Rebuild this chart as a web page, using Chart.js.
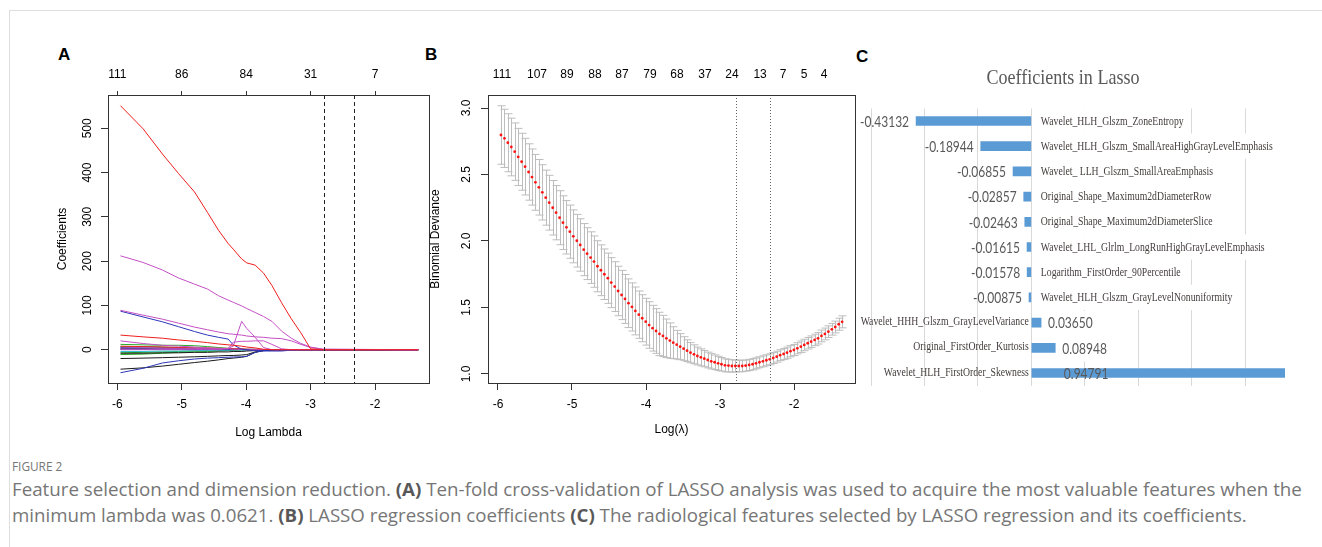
<!DOCTYPE html>
<html>
<head>
<meta charset="utf-8">
<title>Figure 2</title>
<script src="https://cdn.jsdelivr.net/npm/chart.js@4.4.1/dist/chart.umd.min.js"></script>
<style>
  html, body { margin: 0; padding: 0; background: #fff; }
  body { position: relative; width: 1322px; height: 547px; overflow: hidden; }
  .frame { position: absolute; left: 9px; top: 10px; width: 1320px; height: 545px; border-top: 1px solid #dedede; border-left: 1px solid #dedede; }
  .panel { position: absolute; }
  .letter { position: absolute; font: bold 17px 'Liberation Sans', Arial, sans-serif; line-height: 17px; color: #000; }
  .caption { position: absolute; left: 12px; white-space: nowrap; font-family: 'Open Sans', sans-serif; color: #767676; transform-origin: 0 0; }
  .caption b { color: #585858; }
</style>
</head>
<body>
<div class="frame"></div>
<div class="letter" style="left:58px;top:46px">A</div>
<div class="letter" style="left:425px;top:46px">B</div>
<div class="letter" style="left:856px;top:48px">C</div>

<canvas id="chartA" class="panel" width="400" height="410" style="left:40px;top:40px"></canvas>
<canvas id="chartB" class="panel" width="440" height="410" style="left:425px;top:40px"></canvas>
<canvas id="chartC" class="panel" width="462" height="345" style="left:860px;top:55px"></canvas>

<div class="caption" style="top:457px;font-size:13px" data-w="50">FIGURE 2</div>
<div class="caption" style="top:477px;font-size:18px" data-w="1290">Feature selection and dimension reduction. <b>(A)</b> Ten-fold cross-validation of LASSO analysis was used to acquire the most valuable features when the</div>
<div class="caption" style="top:503px;font-size:18px" data-w="1235">minimum lambda was 0.0621. <b>(B)</b> LASSO regression coefficients <b>(C)</b> The radiological features selected by LASSO regression and its coefficients.</div>

<script>
(function () {
  'use strict';

  // ---- panel A: coefficient paths ----
  var logLambdaA = [-5.95, -5.6, -5.3, -5.05, -4.8, -4.6, -4.43, -4.28, -4.2, -4.07, -3.99, -3.86, -3.73, -3.6, -3.45, -3.3, -3.15, -3.0, -2.8, -1.33];
  var pathGreen1 = [12, 11, 10, 10, 9, 7, 5, 3, 2, 1, 0, 0, 0, 0, 0, 0, 0, 0, 0, 0];
  var pathGreen2 = [7, 7, 6, 5, 4, 3, 2, 1, 1, 0, 0, 0, 0, 0, 0, 0, 0, 0, 0, 0];
  var pathGreen3 = [-7, -6, -5, -4, -3, -2, -2, -1, -1, 0, 0, 0, 0, 0, 0, 0, 0, 0, 0, 0];
  var pathGreen4 = [-11, -10, -8, -6, -5, -4, -3, -2, -1, 0, 0, 0, 0, 0, 0, 0, 0, 0, 0, 0];
  var pathCyan1 = [-4, -4, -3, -3, -2, -2, -1, -1, 0, 0, 0, 0, 0, 0, 0, 0, 0, 0, 0, 0];
  var pathCyan2 = [3, 3, 2, 2, 2, 1, 1, 0, 0, 0, 0, 0, 0, 0, 0, 0, 0, 0, 0, 0];
  var pathBlue3 = [5, 4, 4, 3, 3, 2, 2, 2, 1, 1, 0, 0, 0, 0, 0, 0, 0, 0, 0, 0];
  var pathBlack3 = [-8, -8, -7, -7, -6, -6, -5, -5, -4, -4, -3, -2, -1, 0, 0, 0, 0, 0, 0, 0];
  var pathBlack4 = [2, 2, 2, 2, 1, 1, 1, 1, 1, 1, 1, 1, 0, 0, 0, 0, 0, 0, 0, 0];
  var pathNavy = [1, 1, 1, 1, 1, 1, 0, 0, 0, 0, 0, -1, -1, -1, -1, 0, 0, 0, 0, 0];
  var pathRed3 = [8, 7, 6, 5, 4, 4, 3, 3, 2, 2, 1, 0, 0, 0, 0, 0, 0, 0, 0, 0];
  var pathMagenta4 = [4, 4, 3, 3, 3, 2, 2, 2, 1, 1, 0, 0, 0, 0, 0, 0, 0, 0, 0, 0];
  var pathBlack1 = [-20, -19, -18, -17, -16, -15, -14, -13, -13, -12, -11, -5, -2, -1, 0, 0, 0, 0, 0, 0];
  var pathBlack2 = [-44, -41, -37, -33, -29, -26, -23, -20, -19, -17, -15, -6, -2, -1, 0, 0, 0, 0, 0, 0];
  var pathBlue2 = [-52, -42, -30, -25, -21, -19, -18, -17, -16.5, -16, -15, -6, -2, -1, 0, 0, 0, 0, 0, 0];
  var pathBlue1 = [87, 74, 63, 52, 41, 33, 28, 24, 11, 1, 0, -2, -3, -3, -3, -1, 0, 0, 0, 0];
  var pathMagenta2 = [89, 78, 69, 60, 51, 45, 40, 36, 35, 33, 31, 29, 28, 26, 25, 20, 12, 5, 1, 0];
  var pathMagenta3 = [20, 14, 10, 8, 6, 4, 3, 2, 17, 19, 19, 20, 20, 12, 2, 0, 0, 0, 0, 0];
  var pathMagenta5 = [0, 0, 0, 0, 0, 0, 0, 3, 8, 64, 48, 28, 5, 0, 0, 0, 0, 0, 0, 0];
  var pathRed2 = [33, 29, 26, 22, 19, 16, 13, 11, 10, 8, 6, 4, 1, 0, 0, 0, 0, 0, 0, 0];
  var pathMagenta1 = [212, 197, 180, 162, 148, 137, 122, 112, 107, 99, 93, 84, 75, 64, 42, 26, 14, 6, 1, 0];
  var pathRed1 = [551, 499, 442, 398, 356, 310, 270, 240, 227, 205, 196, 191, 173, 145, 106, 70, 38, 2, 0, 0];

  var xTicks = [-6, -5, -4, -3, -2];
  var xTickLabels = ['-6', '-5', '-4', '-3', '-2'];
  var dfLabelsA = ['111', '86', '84', '31', '7'];
  var yTicksA = [0, 100, 200, 300, 400, 500];
  var yTickLabelsA = ['0', '100', '200', '300', '400', '500'];
  var cutoffs = [-2.79, -2.32];

  // ---- panel B: cross-validation curve ----
  var logLambdaB = [
    -5.960, -5.913, -5.867, -5.820, -5.774, -5.727, -5.681, -5.634, -5.587, -5.541,
    -5.494, -5.448, -5.401, -5.355, -5.308, -5.261, -5.215, -5.168, -5.122, -5.075,
    -5.029, -4.982, -4.935, -4.889, -4.842, -4.796, -4.749, -4.703, -4.656, -4.610,
    -4.563, -4.516, -4.470, -4.423, -4.377, -4.330, -4.284, -4.237, -4.190, -4.144,
    -4.097, -4.051, -4.004, -3.958, -3.911, -3.864, -3.818, -3.771, -3.725, -3.678,
    -3.632, -3.585, -3.538, -3.492, -3.445, -3.399, -3.352, -3.306, -3.259, -3.212,
    -3.166, -3.119, -3.073, -3.026, -2.980, -2.933, -2.886, -2.840, -2.793, -2.747,
    -2.700, -2.654, -2.607, -2.560, -2.514, -2.467, -2.421, -2.374, -2.328, -2.281,
    -2.234, -2.188, -2.141, -2.095, -2.048, -2.002, -1.955, -1.908, -1.862, -1.815,
    -1.769, -1.722, -1.676, -1.629, -1.583, -1.536, -1.489, -1.443, -1.396, -1.350
  ];
  var cvMean = [
    2.797, 2.772, 2.739, 2.707, 2.672, 2.632, 2.596, 2.559, 2.519, 2.481,
    2.441, 2.404, 2.366, 2.326, 2.288, 2.250, 2.213, 2.175, 2.138, 2.103,
    2.070, 2.035, 2.002, 1.970, 1.935, 1.905, 1.875, 1.845, 1.810, 1.780,
    1.750, 1.720, 1.687, 1.657, 1.624, 1.594, 1.564, 1.532, 1.504, 1.474,
    1.446, 1.419, 1.393, 1.368, 1.344, 1.323, 1.301, 1.286, 1.268, 1.251,
    1.235, 1.220, 1.205, 1.190, 1.175, 1.160, 1.148, 1.135, 1.125, 1.115,
    1.105, 1.095, 1.088, 1.080, 1.073, 1.065, 1.063, 1.060, 1.060, 1.060,
    1.060, 1.063, 1.068, 1.073, 1.080, 1.088, 1.095, 1.103, 1.110, 1.120,
    1.130, 1.141, 1.150, 1.160, 1.171, 1.180, 1.193, 1.205, 1.218, 1.231,
    1.243, 1.256, 1.268, 1.286, 1.301, 1.318, 1.336, 1.353, 1.374, 1.392
  ];
  var cvSd = [
    0.220, 0.219, 0.218, 0.217, 0.216, 0.215, 0.214, 0.213, 0.212, 0.211,
    0.210, 0.209, 0.208, 0.207, 0.206, 0.205, 0.204, 0.203, 0.202, 0.201,
    0.200, 0.199, 0.198, 0.197, 0.196, 0.195, 0.194, 0.193, 0.192, 0.191,
    0.190, 0.189, 0.188, 0.187, 0.186, 0.185, 0.184, 0.183, 0.181, 0.180,
    0.178, 0.177, 0.176, 0.175, 0.172, 0.168, 0.163, 0.155, 0.145, 0.133,
    0.120, 0.108, 0.098, 0.090, 0.082, 0.076, 0.071, 0.067, 0.064, 0.061,
    0.059, 0.057, 0.055, 0.053, 0.051, 0.049, 0.047, 0.046, 0.045, 0.044,
    0.043, 0.042, 0.042, 0.042, 0.041, 0.041, 0.041, 0.041, 0.041, 0.041,
    0.041, 0.041, 0.042, 0.042, 0.042, 0.042, 0.042, 0.043, 0.043, 0.043,
    0.043, 0.043, 0.043, 0.044, 0.044, 0.044, 0.044, 0.044, 0.045, 0.045
  ];
  var nzeroPosB = [-5.946, -5.473, -5.068, -4.689, -4.324, -3.946, -3.581, -3.203, -2.838, -2.459, -2.149, -1.865, -1.595];
  var nzeroLabelsB = ['111', '107', '89', '88', '87', '79', '68', '37', '24', '13', '7', '5', '4'];
  var yTicksB = [1.0, 1.5, 2.0, 2.5, 3.0];
  var yTickLabelsB = ['1.0', '1.5', '2.0', '2.5', '3.0'];

  // ---- panel C: selected features ----
  var featureNames = [
    'Wavelet_HLH_Glszm_ZoneEntropy',
    'Wavelet_HLH_Glszm_SmallAreaHighGrayLevelEmphasis',
    'Wavelet_ LLH_Glszm_SmallAreaEmphasis',
    'Original_Shape_Maximum2dDiameterRow',
    'Original_Shape_Maximum2dDiameterSlice',
    'Wavelet_LHL_Glrlm_LongRunHighGrayLevelEmphasis',
    'Logarithm_FirstOrder_90Percentile',
    'Wavelet_HLH_Glszm_GrayLevelNonuniformity',
    'Wavelet_HHH_Glszm_GrayLevelVariance',
    'Original_FirstOrder_Kurtosis',
    'Wavelet_HLH_FirstOrder_Skewness'
  ];
  var lassoCoefs = [-0.43132, -0.18944, -0.06855, -0.02857, -0.02463, -0.01615, -0.01578, -0.00875, 0.03650, 0.08948, 0.94791];
  var gridTicksC = [-0.6, -0.4, -0.2, 0, 0.2, 0.4, 0.6, 0.8];

  Chart.defaults.font.family = "'Liberation Sans', Arial, Helvetica, sans-serif";
  Chart.defaults.font.size = 12;
  Chart.defaults.color = '#000';
  Chart.defaults.animation = false;

  var RED = 'rgb(240,30,30)';
  var MAGENTA = 'rgb(196,80,196)';
  var BLUE = 'rgb(45,55,185)';
  var GREEN = 'rgb(40,170,40)';
  var CYAN = 'rgb(40,200,210)';
  var BLACK = '#1a1a1a';

  // Chart.js paints dataset 0 on top, so the big paths come first
  var seriesA = [
    [pathRed1, RED], [pathMagenta1, MAGENTA], [pathRed2, RED], [pathMagenta5, MAGENTA],
    [pathMagenta3, MAGENTA], [pathMagenta2, MAGENTA], [pathBlue1, BLUE], [pathBlue2, BLUE],
    [pathBlack2, BLACK], [pathBlack1, BLACK], [pathMagenta4, MAGENTA], [pathRed3, RED],
    [pathNavy, BLUE], [pathBlack4, BLACK], [pathBlack3, BLACK], [pathBlue3, BLUE],
    [pathCyan2, CYAN], [pathCyan1, CYAN], [pathGreen4, GREEN], [pathGreen3, GREEN],
    [pathGreen2, GREEN], [pathGreen1, GREEN]
  ];

  function fixedTicks(values) {
    return function (scale) {
      scale.ticks = values.map(function (v) { return { value: v }; });
    };
  }

  function fixedSize(prop, size) {
    return function (scale) { scale[prop] = size; };
  }

  function labelsFrom(list) {
    return function (val, i) { return list[i]; };
  }

  var plotBox = {
    id: 'plotBox',
    afterDraw: function (chart) {
      var a = chart.chartArea;
      var ctx = chart.ctx;
      ctx.save();
      ctx.strokeStyle = '#333';
      ctx.lineWidth = 1;
      ctx.strokeRect(Math.round(a.left) + 0.5, Math.round(a.top) + 0.5,
        Math.round(a.right - a.left), Math.round(a.bottom - a.top));
      ctx.restore();
    }
  };

  var cutoffLines = {
    id: 'cutoffLines',
    afterDatasetsDraw: function (chart, args, opts) {
      var x = chart.scales.x;
      var a = chart.chartArea;
      var ctx = chart.ctx;
      ctx.save();
      ctx.strokeStyle = opts.color;
      ctx.lineWidth = 1;
      ctx.setLineDash(opts.dash);
      opts.at.forEach(function (v) {
        var px = Math.round(x.getPixelForValue(v)) + 0.5;
        ctx.beginPath();
        ctx.moveTo(px, a.top);
        ctx.lineTo(px, a.bottom);
        ctx.stroke();
      });
      ctx.restore();
    }
  };

  var errorBars = {
    id: 'errorBars',
    beforeDatasetsDraw: function (chart) {
      var x = chart.scales.x;
      var y = chart.scales.y;
      var ctx = chart.ctx;
      ctx.save();
      ctx.strokeStyle = '#bdbdbd';
      ctx.lineWidth = 1;
      for (var i = 0; i < logLambdaB.length; i++) {
        var px = Math.round(x.getPixelForValue(logLambdaB[i])) + 0.5;
        var up = y.getPixelForValue(cvMean[i] + cvSd[i]);
        var lo = y.getPixelForValue(cvMean[i] - cvSd[i]);
        ctx.beginPath();
        ctx.moveTo(px, up);
        ctx.lineTo(px, lo);
        ctx.moveTo(px - 4, up);
        ctx.lineTo(px + 4, up);
        ctx.moveTo(px - 4, lo);
        ctx.lineTo(px + 4, lo);
        ctx.stroke();
      }
      ctx.restore();
    }
  };

  function axisCommon(extra) {
    var base = {
      border: { display: false },
      grid: { drawOnChartArea: false, tickLength: 7, tickColor: '#333' },
      ticks: { autoSkip: false, maxRotation: 0 }
    };
    return Object.assign(base, extra);
  }

  // panel A
  new Chart(document.getElementById('chartA'), {
    type: 'line',
    data: {
      labels: logLambdaA,
      datasets: seriesA.map(function (s) {
        return { data: s[0], borderColor: s[1], borderWidth: 1, pointRadius: 0, tension: 0, fill: false };
      })
    },
    options: {
      responsive: false,
      layout: { padding: { left: 0, right: 11, top: 0, bottom: 0 } },
      plugins: {
        legend: { display: false },
        tooltip: { enabled: false },
        cutoffLines: { at: cutoffs, color: '#222', dash: [4, 3] }
      },
      scales: {
        x: axisCommon({
          type: 'linear', position: 'bottom', min: -6.144, max: -1.162,
          afterBuildTicks: fixedTicks(xTicks),
          afterFit: fixedSize('height', 67),
          ticks: { autoSkip: false, maxRotation: 0, padding: 7, callback: labelsFrom(xTickLabels) },
          title: { display: true, text: 'Log Lambda', padding: { top: 0, bottom: 10 } }
        }),
        xTop: axisCommon({
          type: 'linear', position: 'top', min: -6.144, max: -1.162,
          afterBuildTicks: fixedTicks(xTicks),
          afterFit: fixedSize('height', 55),
          grid: { drawOnChartArea: false, tickLength: 4, tickColor: '#333' },
          ticks: { autoSkip: false, maxRotation: 0, padding: 9, callback: labelsFrom(dfLabelsA) }
        }),
        y: axisCommon({
          type: 'linear', min: -75.2, max: 575.2,
          afterBuildTicks: fixedTicks(yTicksA),
          afterFit: fixedSize('width', 68),
          ticks: { autoSkip: false, minRotation: 90, maxRotation: 90, crossAlign: 'center', padding: 3, callback: labelsFrom(yTickLabelsA) },
          title: { display: true, text: 'Coefficients', padding: { top: 15, bottom: 0 } }
        })
      }
    },
    plugins: [cutoffLines, plotBox]
  });

  // panel B
  new Chart(document.getElementById('chartB'), {
    type: 'scatter',
    data: {
      datasets: [{
        data: logLambdaB.map(function (v, i) { return { x: v, y: cvMean[i] }; }),
        pointRadius: 1.4,
        pointBorderWidth: 0,
        pointBackgroundColor: 'rgb(255,20,20)'
      }]
    },
    options: {
      responsive: false,
      layout: { padding: { left: 0, right: 10, top: 0, bottom: 0 } },
      plugins: {
        legend: { display: false },
        tooltip: { enabled: false },
        cutoffLines: { at: cutoffs, color: '#666', dash: [1, 2] }
      },
      scales: {
        x: axisCommon({
          type: 'linear', position: 'bottom', min: -6.135, max: -1.176,
          afterBuildTicks: fixedTicks(xTicks),
          afterFit: fixedSize('height', 67),
          ticks: { autoSkip: false, maxRotation: 0, padding: 7, callback: labelsFrom(xTickLabels) },
          title: { display: true, text: 'Log(\u03bb)', padding: { top: 0, bottom: 13.5 } }
        }),
        xTop: axisCommon({
          type: 'linear', position: 'top', min: -6.135, max: -1.176,
          afterBuildTicks: fixedTicks(nzeroPosB),
          afterFit: fixedSize('height', 55),
          grid: { drawOnChartArea: false, drawTicks: false },
          ticks: { autoSkip: false, maxRotation: 0, padding: 13, callback: labelsFrom(nzeroLabelsB) }
        }),
        y: axisCommon({
          type: 'linear', min: 0.932, max: 3.098,
          afterBuildTicks: fixedTicks(yTicksB),
          afterFit: fixedSize('width', 63),
          ticks: { autoSkip: false, minRotation: 90, maxRotation: 90, crossAlign: 'center', padding: 6, callback: labelsFrom(yTickLabelsB) },
          title: { display: true, text: 'Binomial Deviance', padding: { top: 3, bottom: 0 } }
        })
      }
    },
    plugins: [errorBars, cutoffLines, plotBox]
  });

  // panel C
  var VALUE_FONT = "15px Lato, 'Liberation Sans', sans-serif";
  var NAME_FONT = "13.5px 'Liberation Serif', 'Times New Roman', serif";
  var TITLE_FONT = "22px 'Liberation Serif', 'Times New Roman', serif";

  function narrowText(ctx, text, x, y, align, font, squeeze, color, rowH) {
    ctx.save();
    ctx.font = font;
    var w = ctx.measureText(text).width * squeeze;
    if (rowH) {
      var left = align === 'right' ? x - w : x;
      ctx.fillStyle = '#fff';
      ctx.fillRect(left - 2, y - rowH / 2, w + 4, rowH);
    }
    ctx.translate(x, y);
    ctx.scale(squeeze, 1);
    ctx.fillStyle = color;
    ctx.textAlign = align;
    ctx.textBaseline = 'middle';
    ctx.fillText(text, 0, 0);
    ctx.restore();
    return w;
  }

  var barLabels = {
    id: 'barLabels',
    afterDatasetsDraw: function (chart) {
      var ctx = chart.ctx;
      var area = chart.chartArea;
      var meta = chart.getDatasetMeta(0);
      var rowH = (area.bottom - area.top) / featureNames.length;
      meta.data.forEach(function (bar, i) {
        var v = lassoCoefs[i];
        var txt = v.toFixed(5);
        if (v < 0) {
          narrowText(ctx, txt, bar.x - 7, bar.y + 1, 'right', VALUE_FONT, 0.8, '#595959');
          narrowText(ctx, featureNames[i], bar.base + 10, bar.y, 'left', NAME_FONT, 0.72, '#443c3c', rowH);
        } else {
          narrowText(ctx, featureNames[i], bar.base - 3, bar.y - 1, 'right', NAME_FONT, 0.72, '#443c3c');
          ctx.save();
          ctx.font = VALUE_FONT;
          var w = ctx.measureText(txt).width * 0.8;
          ctx.restore();
          if (bar.x + 7 + w > area.right) {
            narrowText(ctx, txt, bar.base + 32, bar.y + 1, 'left', VALUE_FONT, 0.8, '#595959');
          } else {
            narrowText(ctx, txt, bar.x + 7, bar.y + 1, 'left', VALUE_FONT, 0.8, '#595959', rowH);
          }
        }
      });
      ctx.save();
      ctx.font = TITLE_FONT;
      ctx.fillStyle = '#595959';
      ctx.translate(203, 29);
      ctx.scale(0.82, 1);
      ctx.textAlign = 'center';
      ctx.textBaseline = 'alphabetic';
      ctx.fillText('Coefficients in Lasso', 0, 0);
      ctx.restore();
    }
  };

  new Chart(document.getElementById('chartC'), {
    type: 'bar',
    data: {
      labels: featureNames,
      datasets: [{ data: lassoCoefs, backgroundColor: '#5b9bd5', borderWidth: 0, barThickness: 9 }]
    },
    options: {
      indexAxis: 'y',
      responsive: false,
      layout: { padding: { left: 11, right: 23.4, top: 53.4, bottom: 14.4 } },
      plugins: { legend: { display: false }, tooltip: { enabled: false } },
      scales: {
        x: {
          type: 'linear', min: -0.6, max: 1.0,
          afterBuildTicks: fixedTicks(gridTicksC),
          afterFit: fixedSize('height', 0),
          border: { display: false },
          grid: { color: '#d9d9d9', drawTicks: false },
          ticks: { display: false }
        },
        y: { display: false }
      }
    },
    plugins: [barLabels]
  });

  // fit caption lines to their measured widths
  function fitCaptions() {
    var caps = document.querySelectorAll('.caption');
    for (var i = 0; i < caps.length; i++) {
      var el = caps[i];
      el.style.transform = 'none';
      var target = parseFloat(el.getAttribute('data-w'));
      el.style.transform = 'scaleX(' + (target / el.offsetWidth) + ')';
    }
  }
  fitCaptions();
  if (document.fonts && document.fonts.ready) document.fonts.ready.then(fitCaptions);
})();
</script>
</body>
</html>
